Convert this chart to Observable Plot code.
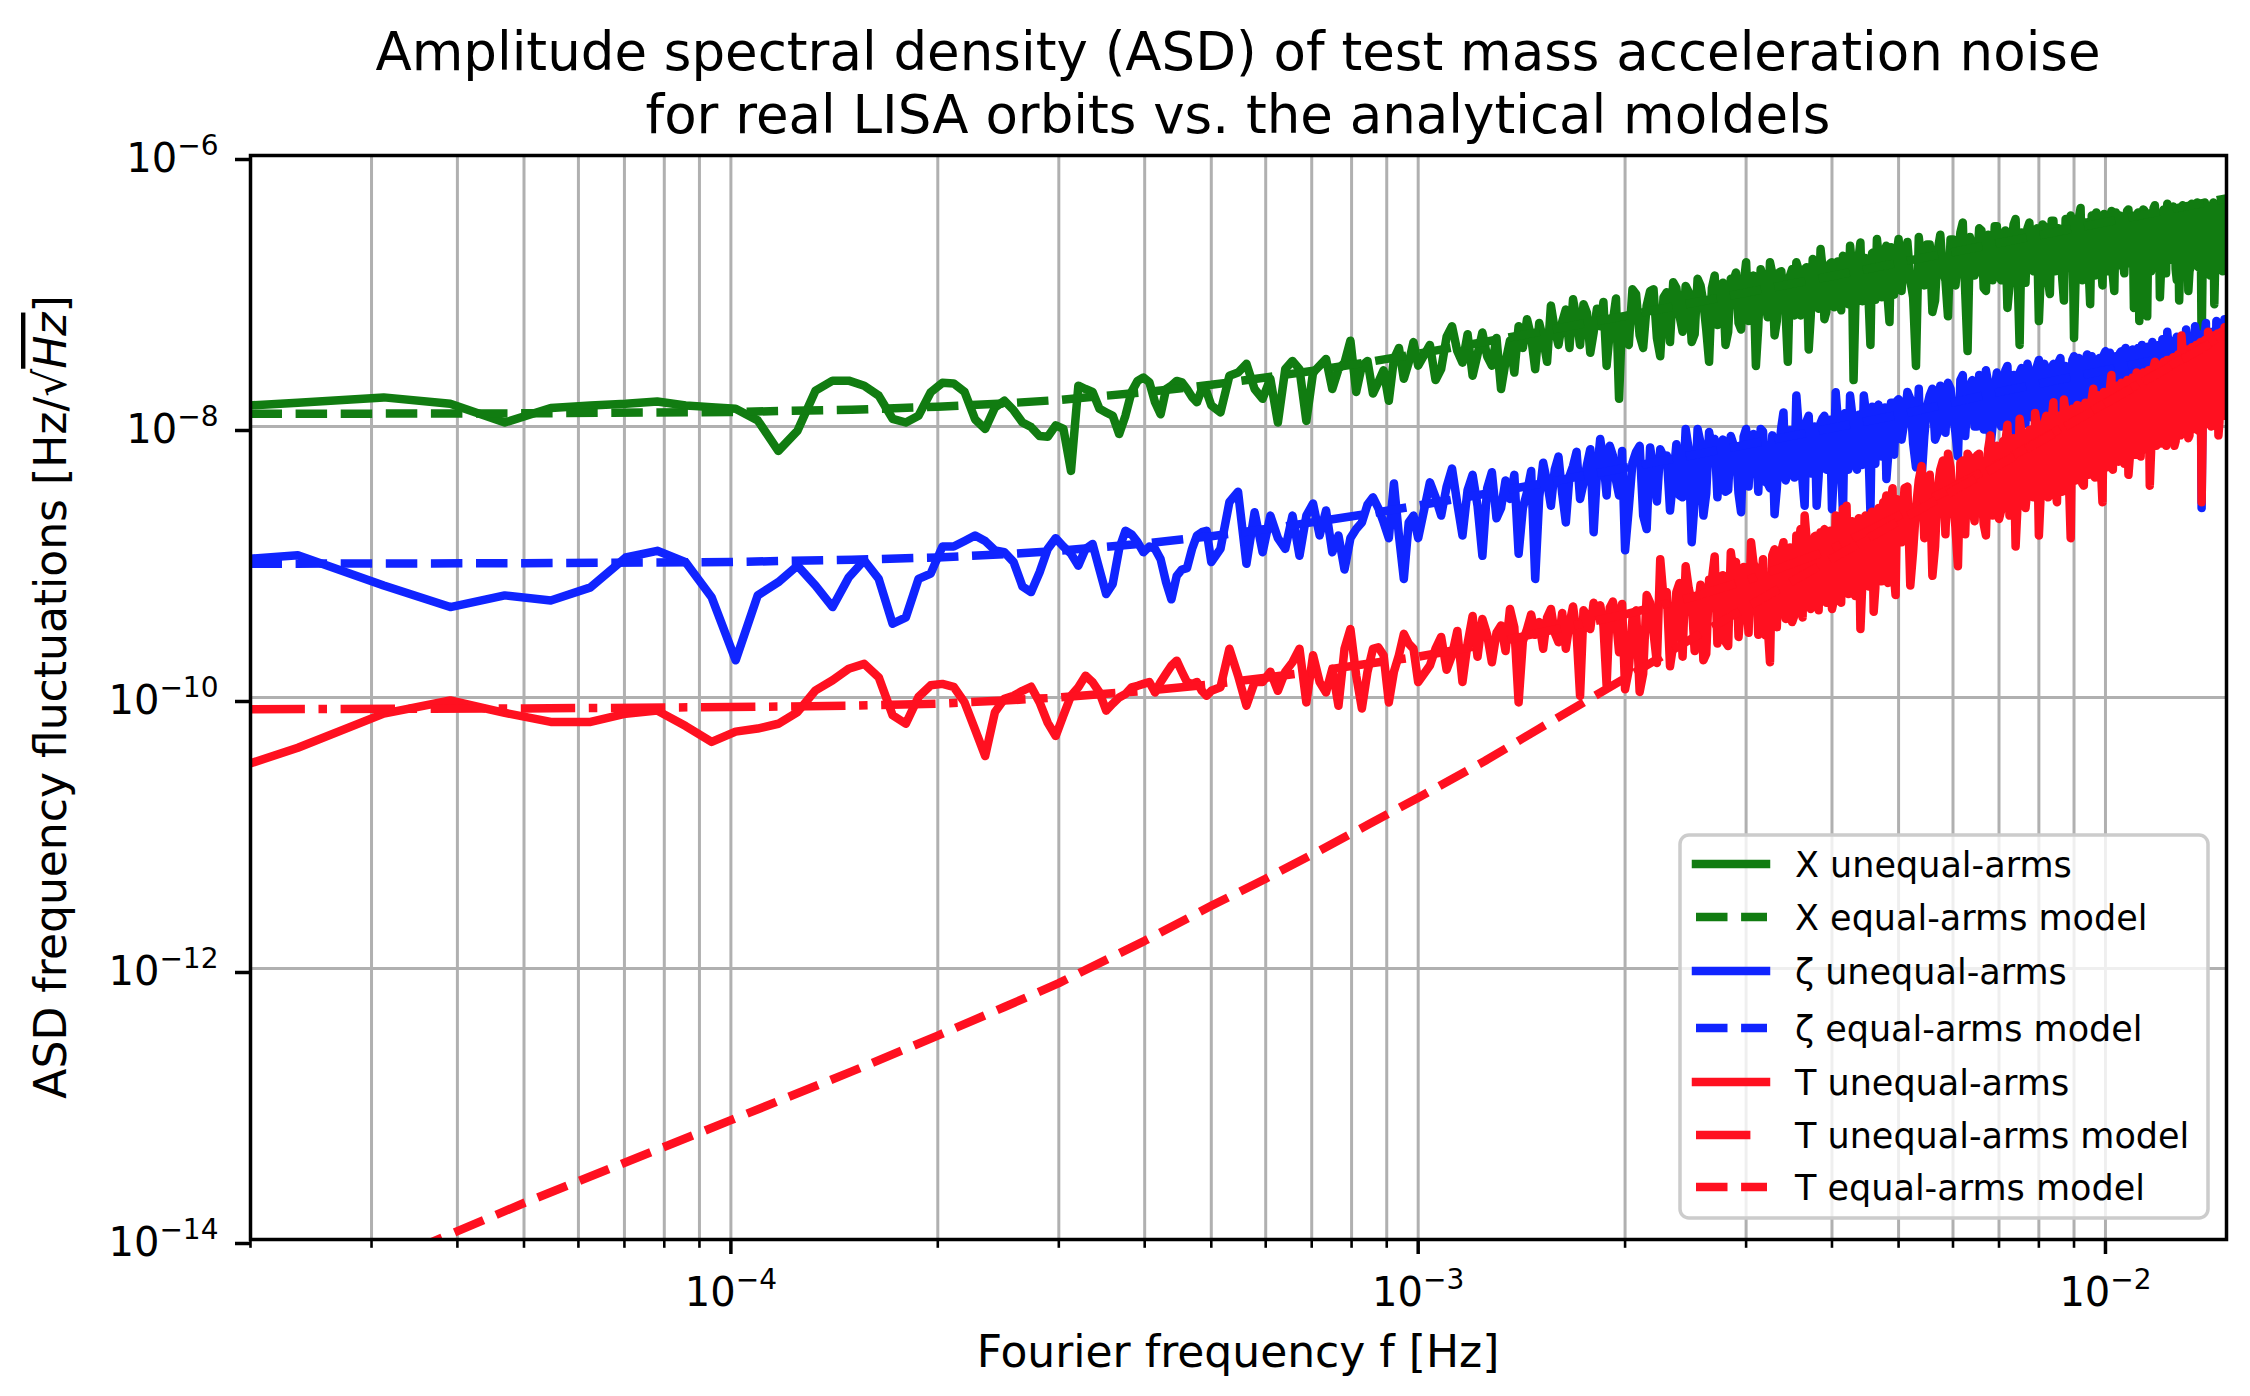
<!DOCTYPE html>
<html><head><meta charset="utf-8">
<script src="https://cdn.jsdelivr.net/npm/d3@7"></script>
<script src="https://cdn.jsdelivr.net/npm/@observablehq/plot@0.6"></script>
<style>html,body{margin:0;padding:0;background:#fff;} svg{display:block;}</style>
</head><body><div id="chart"></div>
<script>
// ---- Fourier frequencies of the measured spectra [Hz]
const freq = [
1.563e-5,2.344e-5,3.125e-5,3.906e-5,4.688e-5,5.469e-5,6.25e-5,7.031e-5,7.813e-5,8.594e-5,
9.375e-5,1.016e-4,1.094e-4,1.172e-4,1.25e-4,1.328e-4,1.406e-4,1.484e-4,1.563e-4,1.641e-4,
1.719e-4,1.797e-4,1.875e-4,1.953e-4,2.031e-4,2.109e-4,2.188e-4,2.266e-4,2.344e-4,2.422e-4,
2.5e-4,2.578e-4,2.656e-4,2.734e-4,2.813e-4,2.891e-4,2.969e-4,3.047e-4,3.125e-4,3.203e-4,
3.281e-4,3.359e-4,3.438e-4,3.516e-4,3.594e-4,3.672e-4,3.75e-4,3.828e-4,3.906e-4,3.984e-4,
4.063e-4,4.141e-4,4.219e-4,4.297e-4,4.375e-4,4.453e-4,4.531e-4,4.609e-4,4.688e-4,4.766e-4,
4.844e-4,4.922e-4,5.0e-4,
5.156e-4,5.313e-4,5.469e-4,5.625e-4,5.781e-4,5.938e-4,6.094e-4,6.25e-4,6.406e-4,6.563e-4,
6.719e-4,6.875e-4,7.031e-4,7.188e-4,7.344e-4,7.5e-4,7.656e-4,7.813e-4,7.969e-4,8.125e-4,
8.281e-4,8.438e-4,8.594e-4,8.75e-4,8.906e-4,9.063e-4,9.219e-4,9.375e-4,9.531e-4,9.688e-4,
9.844e-4,1.0e-3,
1.04e-3,1.08e-3,1.12e-3,1.16e-3,1.2e-3,1.24e-3,1.28e-3,1.32e-3,1.36e-3,1.4e-3,
1.44e-3,1.48e-3,1.52e-3,1.56e-3,1.6e-3,1.64e-3,1.68e-3,1.72e-3,1.76e-3,1.8e-3,
1.84e-3,1.88e-3,1.92e-3,1.96e-3,2.0e-3,
2.05e-3,2.1e-3,2.15e-3,2.2e-3,2.25e-3,2.3e-3,2.35e-3,2.4e-3,2.45e-3,2.5e-3,
2.55e-3,2.6e-3,2.65e-3,2.7e-3,2.75e-3,2.8e-3,2.85e-3,2.9e-3,2.95e-3,3.0e-3,
3.05e-3,3.1e-3,3.15e-3,3.2e-3,3.25e-3,3.3e-3,3.35e-3,3.4e-3,3.45e-3,3.5e-3,
3.55e-3,3.6e-3,3.65e-3,3.7e-3,3.75e-3,3.8e-3,3.85e-3,3.9e-3,3.95e-3,4.0e-3,
4.05e-3,4.1e-3,4.15e-3,4.2e-3,4.25e-3,4.3e-3,4.35e-3,4.4e-3,4.45e-3,4.5e-3,
4.55e-3,4.6e-3,4.65e-3,4.7e-3,4.75e-3,4.8e-3,4.85e-3,4.9e-3,4.95e-3,5.0e-3,
5.1e-3,5.2e-3,5.3e-3,5.4e-3,5.5e-3,5.6e-3,5.7e-3,5.8e-3,5.9e-3,6.0e-3,
6.1e-3,6.2e-3,6.3e-3,6.4e-3,6.5e-3,6.6e-3,6.7e-3,6.8e-3,6.9e-3,7.0e-3,
7.1e-3,7.2e-3,7.3e-3,7.4e-3,7.5e-3,7.6e-3,7.7e-3,7.8e-3,7.9e-3,8.0e-3,
8.1e-3,8.2e-3,8.3e-3,8.4e-3,8.5e-3,8.6e-3,8.7e-3,8.8e-3,8.9e-3,9.0e-3,
9.1e-3,9.2e-3,9.3e-3,9.4e-3,9.5e-3,9.6e-3,9.7e-3,9.8e-3,9.9e-3,1.0e-2,
1.01e-2,1.02e-2,1.03e-2,1.04e-2,1.05e-2,1.06e-2,1.07e-2,1.08e-2,1.09e-2,1.1e-2,
1.11e-2,1.12e-2,1.13e-2,1.14e-2,1.15e-2,1.16e-2,1.17e-2,1.18e-2,1.19e-2,1.2e-2,
1.21e-2,1.22e-2,1.23e-2,1.24e-2,1.25e-2,1.26e-2,1.27e-2,1.28e-2,1.29e-2,1.3e-2,
1.31e-2,1.32e-2,1.33e-2,1.34e-2,1.35e-2,1.36e-2,1.37e-2,1.38e-2,1.39e-2,1.4e-2,
1.41e-2,1.42e-2,1.43e-2,1.44e-2,1.45e-2,1.46e-2,1.47e-2,1.48e-2,1.49e-2,1.5e-2
];
// additional (in-between) frequencies of the dense high-frequency part [Hz]
const freqFine = [
1.06e-3,1.1e-3,1.14e-3,1.18e-3,1.22e-3,1.26e-3,1.3e-3,1.34e-3,1.38e-3,1.42e-3,
1.46e-3,1.5e-3,1.54e-3,1.58e-3,1.62e-3,1.66e-3,1.7e-3,1.74e-3,1.78e-3,1.82e-3,
1.86e-3,1.9e-3,1.94e-3,1.98e-3,
2.025e-3,2.075e-3,2.125e-3,2.175e-3,2.225e-3,2.275e-3,2.325e-3,2.375e-3,2.425e-3,2.475e-3,
2.525e-3,2.575e-3,2.625e-3,2.675e-3,2.725e-3,2.775e-3,2.825e-3,2.875e-3,2.925e-3,2.975e-3,
3.025e-3,3.075e-3,3.125e-3,3.175e-3,3.225e-3,3.275e-3,3.325e-3,3.375e-3,3.425e-3,3.475e-3,
3.525e-3,3.575e-3,3.625e-3,3.675e-3,3.725e-3,3.775e-3,3.825e-3,3.875e-3,3.925e-3,3.975e-3,
4.025e-3,4.075e-3,4.125e-3,4.175e-3,4.225e-3,4.275e-3,4.325e-3,4.375e-3,4.425e-3,4.475e-3,
4.525e-3,4.575e-3,4.625e-3,4.675e-3,4.725e-3,4.775e-3,4.825e-3,4.875e-3,4.925e-3,4.975e-3,
5.05e-3,5.15e-3,5.25e-3,5.35e-3,5.45e-3,5.55e-3,5.65e-3,5.75e-3,5.85e-3,5.95e-3,
6.05e-3,6.15e-3,6.25e-3,6.35e-3,6.45e-3,6.55e-3,6.65e-3,6.75e-3,6.85e-3,6.95e-3,
7.05e-3,7.15e-3,7.25e-3,7.35e-3,7.45e-3,7.55e-3,7.65e-3,7.75e-3,7.85e-3,7.95e-3,
8.05e-3,8.15e-3,8.25e-3,8.35e-3,8.45e-3,8.55e-3,8.65e-3,8.75e-3,8.85e-3,8.95e-3,
9.05e-3,9.15e-3,9.25e-3,9.35e-3,9.45e-3,9.55e-3,9.65e-3,9.75e-3,9.85e-3,9.95e-3,
1.005e-2,1.015e-2,1.025e-2,1.035e-2,1.045e-2,1.055e-2,1.065e-2,1.075e-2,1.085e-2,1.095e-2,
1.105e-2,1.115e-2,1.125e-2,1.135e-2,1.145e-2,1.155e-2,1.165e-2,1.175e-2,1.185e-2,1.195e-2,
1.205e-2,1.215e-2,1.225e-2,1.235e-2,1.245e-2,1.255e-2,1.265e-2,1.275e-2,1.285e-2,1.295e-2,
1.305e-2,1.315e-2,1.325e-2,1.335e-2,1.345e-2,1.355e-2,1.365e-2,1.375e-2,1.385e-2,1.395e-2,
1.405e-2,1.415e-2,1.425e-2,1.435e-2,1.445e-2,1.455e-2,1.465e-2,1.475e-2,1.485e-2,1.495e-2
];

// ---- X unequal-arms ASD
const xUnequal = [
1.33e-8,1.5e-8,1.64e-8,1.47e-8,1.07e-8,1.37e-8,1.43e-8,1.47e-8,1.53e-8,1.43e-8,
1.39e-8,1.35e-8,1.11e-8,6.6e-9,9.3e-9,1.84e-8,2.18e-8,2.18e-8,2.0e-8,1.69e-8,
1.14e-8,1.07e-8,1.2e-8,1.79e-8,2.1e-8,2.08e-8,1.8e-8,1.13e-8,9.6e-9,1.38e-8,
1.55e-8,1.32e-8,1.07e-8,9.9e-9,8.5e-9,8.4e-9,1.02e-8,9.6e-9,4.7e-9,2.0e-8,
1.89e-8,1.8e-8,1.35e-8,1.27e-8,1.2e-8,8.8e-9,1.2e-8,1.8e-8,2.17e-8,2.3e-8,
2.12e-8,1.51e-8,1.23e-8,1.89e-8,2.0e-8,2.17e-8,2.12e-8,1.89e-8,1.65e-8,1.51e-8,
1.89e-8,1.8e-8,1.43e-8,
1.27e-8,2.37e-8,2.5e-8,2.9e-8,1.89e-8,1.6e-8,2.25e-8,1.07e-8,2.65e-8,3.05e-8,
2.65e-8,1.1e-8,2.5e-8,2.81e-8,3.15e-8,1.89e-8,2.65e-8,2.96e-8,4.3e-8,1.8e-8,
2.81e-8,3.05e-8,1.75e-8,2.12e-8,2.6e-8,1.55e-8,3.15e-8,3.8e-8,2.25e-8,2.96e-8,
4.2e-8,2.81e-8,
4.0e-8,2.65e-8,5.5e-8,2.96e-8,2.37e-8,4.94e-8,2.81e-8,1.89e-8,4.3e-8,5.5e-8,
6.2e-8,2.65e-8,4.4e-8,7.8e-8,4.0e-8,7.3e-8,8.7e-8,4.0e-8,6.9e-8,4.94e-8,
5.5e-8,2.8e-8,6.0e-8,1.6e-8,4.5e-8,
1.03e-7,4.7e-8,7.8e-8,1.03e-7,3.3e-8,9.8e-8,1.16e-7,6.6e-8,1.09e-7,4.2e-8,
1.23e-7,8.2e-8,3.0e-8,1.3e-7,6.2e-8,4.0e-8,1.23e-7,1.37e-7,5.2e-8,1.63e-7,
1.03e-7,2.8e-8,1.45e-7,8.2e-8,1.63e-7,4.7e-8,1.37e-7,9.2e-8,3.0e-8,1.45e-7,
1.63e-7,6.6e-8,1.45e-7,3.7e-8,1.72e-7,1.03e-7,2.04e-7,6.2e-8,1.37e-7,1.63e-7,
1.37e-7,9.2e-8,1.82e-7,8.2e-8,2.16e-7,2.2e-8,1.63e-7,2.28e-7,1.03e-7,1.72e-7,
4.0e-8,1.93e-7,2.42e-7,9.2e-8,1.82e-7,2.16e-7,5.9e-8,2.04e-7,1.63e-7,2.42e-7,
1.9e-7,1.2e-7,2.8e-8,1.6e-7,2.2e-7,7.0e-8,2.0e-7,1.4e-7,6.5e-8,2.4e-7,
1.7e-7,3.2e-7,3.6e-8,2.1e-7,1.5e-7,2.8e-7,1.0e-7,2.3e-7,3.0e-7,1.3e-7,
2.6e-7,7.5e-8,2.2e-7,3.4e-7,4.0e-8,2.0e-7,2.9e-7,1.5e-7,2.5e-7,6.0e-8,
3.1e-7,2.2e-7,9.5e-8,3.3e-7,1.8e-7,2.7e-7,8.5e-8,2.4e-7,3.6e-7,4.5e-8,
2.9e-7,4.1e-7,1.9e-7,3.2e-7,8.0e-8,2.6e-7,3.8e-7,1.6e-7,1.1e-7,3.3e-7,
2.4e-7,3.9e-7,1.0e-7,2.8e-7,3.6e-7,1.7e-7,3.0e-7,4.0e-7,2.0e-7,7.5e-8,
3.4e-7,6.0e-8,2.7e-7,3.9e-7,6.5e-8,3.2e-7,2.2e-7,4.3e-7,1.5e-7,9.0e-8,
3.6e-7,2.5e-7,4.4e-7,1.8e-7,3.1e-7,4.0e-7,1.2e-7,8.5e-8,3.5e-7,2.6e-7,
4.2e-7,1.0e-7,1.5e-7,3.7e-7,2.3e-7,4.5e-7,1.9e-7,4.0e-8,3.3e-7,4.1e-7,
2.8e-7,1.3e-7,3.9e-7,8.0e-8,3.0e-7,4.4e-7,2.4e-7,1.4e-7,3.8e-7,4.3e-7
];
const xUnequalFine = [
2.2e-8,4.6e-8,3.6e-8,4.8e-8,3.4e-8,3.3e-8,4.5e-8,3.0e-8,2.5e-8,3.8e-8,
4.6e-8,5.8e-8,3.0e-8,5.2e-8,5.9e-8,3.8e-8,6.2e-8,8.0e-8,3.5e-8,7.4e-8,
8.3e-8,5.0e-8,8.8e-8,6.4e-8,
4.0e-8,9.5e-8,3.8e-8,1.0e-7,4.5e-8,9.0e-8,4.2e-8,1.05e-7,5.0e-8,9.8e-8,
4.8e-8,1.1e-7,5.2e-8,1.05e-7,5.6e-8,1.15e-7,5.0e-8,1.2e-7,5.8e-8,1.12e-7,
6.0e-8,1.3e-7,5.5e-8,1.25e-7,6.4e-8,1.35e-7,6.0e-8,1.4e-7,6.8e-8,1.3e-7,
6.6e-8,1.45e-7,7.0e-8,1.5e-7,6.5e-8,1.55e-7,7.4e-8,1.48e-7,7.0e-8,1.6e-7,
7.6e-8,1.65e-7,7.2e-8,1.7e-7,8.0e-8,1.6e-7,7.5e-8,1.8e-7,8.4e-8,1.75e-7,
8.0e-8,1.9e-7,8.6e-8,1.85e-7,9.0e-8,2.0e-7,8.4e-8,2.1e-7,9.4e-8,2.0e-7,
1.0e-7,2.3e-7,9.0e-8,2.5e-7,1.1e-7,2.2e-7,8.5e-8,2.6e-7,1.2e-7,2.4e-7,
1.1e-7,2.7e-7,1.0e-7,2.5e-7,1.3e-7,2.9e-7,1.05e-7,2.6e-7,1.2e-7,3.0e-7,
1.2e-7,2.8e-7,1.1e-7,3.1e-7,1.3e-7,2.7e-7,1.15e-7,3.2e-7,1.4e-7,2.9e-7,
1.3e-7,3.0e-7,1.2e-7,3.3e-7,1.4e-7,2.9e-7,1.25e-7,3.4e-7,1.5e-7,3.1e-7,
1.35e-7,3.5e-7,1.2e-7,3.2e-7,1.5e-7,3.6e-7,1.3e-7,3.3e-7,1.6e-7,3.7e-7,
1.4e-7,3.4e-7,1.3e-7,3.8e-7,1.55e-7,3.5e-7,1.35e-7,3.9e-7,1.6e-7,3.6e-7,
1.45e-7,3.8e-7,1.3e-7,4.0e-7,1.6e-7,3.6e-7,1.4e-7,4.1e-7,1.7e-7,3.7e-7,
1.5e-7,4.0e-7,1.35e-7,3.8e-7,1.7e-7,4.2e-7,1.45e-7,3.9e-7,1.75e-7,4.3e-7,
1.55e-7,4.1e-7,1.4e-7,4.4e-7,1.8e-7,3.9e-7,1.5e-7,4.3e-7,1.7e-7,4.5e-7,
1.6e-7,4.2e-7,1.45e-7,4.5e-7,1.8e-7,4.0e-7,1.55e-7,4.4e-7,1.75e-7,4.6e-7
];

// ---- zeta unequal-arms ASD
const zetaUnequal = [
9.7e-10,1.12e-9,6.7e-10,4.65e-10,5.67e-10,5.2e-10,6.5e-10,1.08e-9,1.21e-9,9.97e-10,
5.5e-10,1.88e-10,5.67e-10,7.1e-10,9.4e-10,6.7e-10,4.65e-10,7.7e-10,1.03e-9,7.5e-10,
3.5e-10,3.9e-10,7.5e-10,8.2e-10,1.3e-9,1.3e-9,1.43e-9,1.57e-9,1.43e-9,1.22e-9,
1.18e-9,1.0e-9,6.6e-10,6.0e-10,8.4e-10,1.25e-9,1.5e-9,1.3e-9,1.15e-9,9.4e-10,
1.25e-9,1.36e-9,8.8e-10,5.8e-10,6.9e-10,1.25e-9,1.7e-9,1.6e-9,1.4e-9,1.18e-9,
1.3e-9,1.25e-9,1.05e-9,7.1e-10,5.3e-10,7.9e-10,8.8e-10,9.0e-10,1.25e-9,1.57e-9,
1.66e-9,1.7e-9,1.0e-9,
1.25e-9,2.77e-9,3.3e-9,9.7e-10,2.33e-9,1.18e-9,2.2e-9,1.5e-9,1.25e-9,2.2e-9,
1.11e-9,2.2e-9,2.7e-9,1.57e-9,2.4e-9,1.18e-9,1.57e-9,8.8e-10,1.5e-9,1.75e-9,
1.96e-9,2.65e-9,3.0e-9,2.5e-9,1.96e-9,1.5e-9,3.8e-9,1.57e-9,7.5e-10,1.96e-9,
2.2e-9,1.5e-9,
3.87e-9,2.2e-9,4.9e-9,1.57e-9,4.4e-9,1.11e-9,4.6e-9,2.5e-9,2.92e-9,1.15e-9,
3.27e-9,7.5e-10,5.4e-9,2.6e-9,6.0e-9,1.96e-9,5.1e-9,2.92e-9,5.2e-9,1.66e-9,
8.1e-9,3.1e-9,6.1e-9,3.1e-9,1.22e-9,
5.4e-9,7.2e-9,1.75e-9,4.8e-9,6.8e-9,6.1e-9,4.1e-9,3.1e-9,9.6e-9,1.4e-9,
9.6e-9,2.2e-9,9.1e-9,8.1e-9,6.4e-9,3.3e-9,8.5e-9,6.4e-9,2.33e-9,9.6e-9,
8.5e-9,7.2e-9,9.6e-9,3.9e-9,3.5e-9,2.25e-9,6.8e-9,1.27e-8,4.6e-9,6.8e-9,
1.69e-8,7.2e-9,2.6e-9,1.2e-8,9.6e-9,2.6e-9,1.06e-8,1.2e-8,5.4e-9,2.45e-9,
1.79e-8,6.1e-9,2.33e-9,1.2e-8,1.69e-8,8.5e-9,4.8e-9,1.06e-8,1.69e-8,9.6e-9,
2.33e-9,5.4e-9,1.35e-8,1.2e-8,8.5e-9,4.1e-9,1.2e-8,1.5e-8,1.06e-8,1.59e-8,
1.1e-8,1.6e-8,5.0e-9,4.1e-9,1.4e-8,1.9e-8,9.0e-9,1.5e-8,2.1e-8,1.2e-8,
6.0e-9,2.4e-8,1.6e-8,2.2e-8,1.0e-8,1.8e-8,2.6e-8,7.0e-9,1.9e-8,2.3e-8,
1.4e-8,2.8e-8,2.0e-8,9.0e-9,2.5e-8,1.7e-8,2.9e-8,1.3e-8,2.4e-8,3.1e-8,
1.9e-8,2.6e-8,1.2e-8,2.9e-8,2.2e-8,3.2e-8,1.6e-8,2.7e-8,1.0e-8,3.3e-8,
2.4e-8,2.9e-8,1.5e-8,3.4e-8,2.2e-8,2.8e-8,1.3e-8,3.2e-8,2.5e-8,3.6e-8,
1.8e-8,3.0e-8,2.6e-8,1.4e-8,3.5e-8,2.3e-8,3.8e-8,2.0e-8,3.1e-8,1.6e-8,
3.6e-8,2.7e-8,4.0e-8,1.9e-8,3.3e-8,2.5e-8,4.2e-8,2.1e-8,3.7e-8,1.5e-8,
4.4e-8,3.0e-8,5.0e-8,2.4e-8,3.9e-8,2.8e-8,4.6e-8,1.9e-8,4.1e-8,3.2e-8,
5.2e-8,2.6e-8,4.4e-8,3.5e-8,5.5e-8,2.9e-8,4.8e-8,2.5e-9,4.2e-8,5.8e-8,
3.3e-8,5.0e-8,2.7e-8,4.6e-8,6.0e-8,3.6e-8,5.3e-8,4.0e-8,6.2e-8,4.5e-8
];
const zetaUnequalFine = [
3.0e-9,3.6e-9,2.7e-9,3.4e-9,2.6e-9,3.5e-9,2.1e-9,4.0e-9,4.4e-9,2.5e-9,
4.7e-9,3.0e-9,3.9e-9,4.8e-9,3.2e-9,4.3e-9,6.5e-9,3.8e-9,6.8e-9,4.5e-9,
5.6e-9,7.2e-9,4.0e-9,6.6e-9,
2.5e-9,6.5e-9,2.2e-9,7.0e-9,2.8e-9,6.0e-9,2.4e-9,7.4e-9,3.0e-9,6.8e-9,
2.8e-9,7.6e-9,3.2e-9,7.0e-9,3.0e-9,8.0e-9,3.4e-9,7.4e-9,3.2e-9,8.4e-9,
3.6e-9,8.8e-9,3.3e-9,9.2e-9,3.8e-9,8.6e-9,3.5e-9,9.8e-9,4.0e-9,9.4e-9,
4.2e-9,1.05e-8,3.9e-9,1.1e-8,4.5e-9,1.0e-8,4.3e-9,1.15e-8,4.8e-9,1.12e-8,
4.6e-9,1.2e-8,5.0e-9,1.25e-8,4.8e-9,1.3e-8,5.4e-9,1.22e-8,5.2e-9,1.35e-8,
5.6e-9,1.4e-8,5.3e-9,1.45e-8,6.0e-9,1.38e-8,5.8e-9,1.5e-8,6.2e-9,1.55e-8,
8.0e-9,1.8e-8,7.5e-9,1.9e-8,8.5e-9,1.7e-8,8.0e-9,2.0e-8,9.0e-9,1.9e-8,
9.0e-9,2.2e-8,8.5e-9,2.0e-8,1.0e-8,2.4e-8,9.5e-9,2.1e-8,1.0e-8,2.5e-8,
1.0e-8,2.6e-8,9.5e-9,2.4e-8,1.1e-8,2.7e-8,1.05e-8,2.5e-8,1.15e-8,2.8e-8,
1.1e-8,2.9e-8,1.05e-8,2.7e-8,1.2e-8,3.0e-8,1.1e-8,2.8e-8,1.25e-8,3.1e-8,
1.2e-8,3.2e-8,1.15e-8,3.0e-8,1.3e-8,3.3e-8,1.2e-8,3.1e-8,1.35e-8,3.4e-8,
1.3e-8,3.5e-8,1.25e-8,3.3e-8,1.4e-8,3.6e-8,1.3e-8,3.4e-8,1.45e-8,3.7e-8,
1.4e-8,3.8e-8,1.35e-8,3.6e-8,1.5e-8,3.9e-8,1.4e-8,3.7e-8,1.55e-8,4.0e-8,
1.5e-8,4.1e-8,1.45e-8,3.9e-8,1.6e-8,4.3e-8,1.5e-8,4.0e-8,1.7e-8,4.4e-8,
1.6e-8,4.5e-8,1.55e-8,4.3e-8,1.75e-8,4.7e-8,1.6e-8,4.4e-8,1.8e-8,4.9e-8,
1.7e-8,5.0e-8,1.65e-8,4.7e-8,1.9e-8,5.2e-8,1.75e-8,4.9e-8,1.95e-8,5.4e-8
];

// ---- T unequal-arms ASD
const tUnequal = [
2.16e-11,4.26e-11,7.6e-11,9.5e-11,7.7e-11,6.6e-11,6.6e-11,7.6e-11,8.0e-11,6.15e-11,
4.7e-11,5.6e-11,5.9e-11,6.4e-11,7.8e-11,1.13e-10,1.34e-10,1.63e-10,1.77e-10,1.41e-10,
7.4e-11,6.4e-11,1.01e-10,1.23e-10,1.26e-10,1.2e-10,9.2e-11,5.8e-11,3.7e-11,7.8e-11,
9.8e-11,1.03e-10,1.12e-10,1.2e-10,9.2e-11,6.5e-11,5.2e-11,7.4e-11,1.03e-10,1.19e-10,
1.45e-10,1.3e-10,1.09e-10,8.0e-11,9.0e-11,1.0e-10,1.06e-10,1.19e-10,1.22e-10,1.26e-10,
1.3e-10,1.09e-10,1.3e-10,1.5e-10,1.72e-10,1.87e-10,1.55e-10,1.3e-10,1.26e-10,1.3e-10,
1.12e-10,1.03e-10,1.12e-10,
1.19e-10,2.29e-10,1.45e-10,8.7e-11,1.3e-10,1.3e-10,1.55e-10,1.12e-10,1.55e-10,1.82e-10,
2.29e-10,9.2e-11,2.05e-10,1.3e-10,1.09e-10,1.63e-10,8.7e-11,2.29e-10,3.2e-10,1.45e-10,
8.3e-11,1.55e-10,2.29e-10,2.35e-10,2.05e-10,9.2e-11,1.55e-10,2.05e-10,2.95e-10,2.5e-10,
2.29e-10,1.3e-10,
1.72e-10,2.8e-10,2.05e-10,1.3e-10,4.0e-10,3.8e-10,1.82e-10,3.4e-10,4.5e-10,9.2e-11,
3.2e-10,2.9e-10,2.29e-10,4.5e-10,2.56e-10,2.29e-10,4.7e-10,1.03e-10,4.0e-10,5.0e-10,
4.8e-10,1.23e-10,5.1e-10,2.16e-10,1.15e-10,
3.8e-10,1.1e-10,5.7e-10,3.0e-10,1.05e-9,6.0e-10,2.45e-10,7.0e-10,9.3e-10,5.1e-10,
4.4e-10,1.88e-10,7.4e-10,1.1e-9,5.1e-10,2.56e-10,1.18e-9,1.0e-9,5.1e-10,5.7e-10,
1.4e-9,8.9e-10,6.0e-10,2.87e-10,1.82e-10,1.24e-9,1.1e-9,1.4e-9,6.7e-10,3.6e-10,
1.57e-9,1.75e-9,2.2e-9,8.9e-10,5.1e-10,1.57e-9,1.66e-9,1.75e-9,6.7e-10,4.5e-10,
2.2e-9,1.97e-9,2.47e-9,2.6e-9,1.75e-9,1.34e-9,6.7e-10,3.2e-10,1.1e-9,2.08e-9,
2.2e-9,4.3e-10,1.97e-9,2.47e-9,2.76e-9,3.1e-9,2.08e-9,3.5e-9,5.7e-10,2.76e-9,
3.5e-9,6.7e-10,2.5e-9,5.1e-9,1.57e-9,7.9e-10,3.5e-9,5.6e-9,6.3e-9,2.76e-9,
9.3e-10,5.6e-9,6.3e-9,2.5e-9,6.1e-9,3.5e-9,1.57e-9,8.6e-9,5.4e-9,2.08e-9,
7.8e-9,1.03e-8,3.5e-9,1.3e-9,1.14e-8,5.4e-9,3.5e-9,9.5e-9,1.26e-8,1.57e-9,
6.1e-9,1.2e-8,9.5e-9,1.51e-8,2.76e-9,7.8e-9,1.58e-8,1.14e-8,1.5e-9,7.2e-9,
1.44e-8,1.08e-8,3.66e-9,1.26e-8,8.6e-9,1.9e-8,5.4e-9,1.2e-8,2.76e-9,1.66e-8,
8.6e-9,2.4e-8,1.26e-8,6.1e-9,2.0e-8,9.5e-9,1.51e-8,4.4e-9,2.1e-8,1.14e-8,
2.5e-8,7.8e-9,1.66e-8,2.2e-8,9.5e-9,3.66e-9,1.9e-8,3.0e-8,1.36e-8,2.65e-8,
1.83e-8,9.5e-9,3.1e-8,1.51e-8,2.2e-8,7.2e-9,3.3e-8,1.9e-8,4.7e-8,1.51e-8,
2.65e-8,8.2e-9,3.5e-8,1.66e-8,2.65e-8,9.5e-9,4.0e-8,2.76e-9,3.5e-8,2.0e-8,
5.0e-8,1.26e-8,3.0e-8,4.2e-8,1.9e-8,8.6e-9,4.7e-8,2.65e-8,5.4e-8,3.3e-8
];
const tUnequalFine = [
2.3e-10,1.6e-10,3.1e-10,2.5e-10,2.0e-10,2.9e-10,3.0e-10,2.2e-10,3.3e-10,2.6e-10,
4.1e-10,3.6e-10,3.9e-10,3.0e-10,4.2e-10,3.5e-10,3.0e-10,4.4e-10,3.2e-10,4.0e-10,
3.4e-10,4.6e-10,3.8e-10,4.9e-10,
1.6e-10,4.4e-10,1.5e-10,5.0e-10,1.8e-10,5.4e-10,1.7e-10,6.0e-10,2.0e-10,6.4e-10,
2.2e-10,6.8e-10,2.1e-10,7.4e-10,2.5e-10,8.0e-10,2.4e-10,8.6e-10,2.8e-10,9.2e-10,
3.0e-10,9.8e-10,2.9e-10,1.05e-9,3.4e-10,1.12e-9,3.3e-10,1.2e-9,3.8e-10,1.28e-9,
4.0e-10,1.35e-9,3.9e-10,1.45e-9,4.5e-10,1.55e-9,4.4e-10,1.62e-9,5.0e-10,1.7e-9,
5.2e-10,1.8e-9,5.0e-10,1.9e-9,5.8e-10,2.0e-9,5.6e-10,2.1e-9,6.4e-10,2.2e-9,
6.6e-10,2.35e-9,6.4e-10,2.5e-9,7.2e-10,2.6e-9,7.0e-10,2.75e-9,7.8e-10,2.9e-9,
1.4e-9,3.6e-9,1.2e-9,4.0e-9,1.5e-9,4.4e-9,1.3e-9,4.8e-9,1.6e-9,5.0e-9,
1.8e-9,5.4e-9,1.6e-9,5.9e-9,2.0e-9,6.3e-9,1.9e-9,6.8e-9,2.2e-9,7.2e-9,
2.4e-9,7.6e-9,2.2e-9,8.2e-9,2.7e-9,8.8e-9,2.5e-9,9.4e-9,3.0e-9,1.0e-8,
3.2e-9,1.05e-8,3.0e-9,1.12e-8,3.5e-9,1.2e-8,3.3e-9,1.28e-8,3.8e-9,1.35e-8,
4.0e-9,1.42e-8,3.8e-9,1.5e-8,4.4e-9,1.6e-8,4.2e-9,1.7e-8,4.8e-9,1.8e-8,
5.0e-9,1.9e-8,4.8e-9,2.0e-8,5.5e-9,2.1e-8,5.3e-9,2.2e-8,6.0e-9,2.3e-8,
6.2e-9,2.4e-8,6.0e-9,2.5e-8,6.8e-9,2.6e-8,6.5e-9,2.75e-8,7.2e-9,2.85e-8,
7.5e-9,3.0e-8,7.2e-9,3.1e-8,8.0e-9,3.25e-8,7.8e-9,3.4e-8,8.6e-9,3.55e-8,
9.0e-9,3.7e-8,8.6e-9,3.85e-8,9.6e-9,4.0e-8,9.3e-9,4.2e-8,1.0e-8,4.35e-8,
1.05e-8,4.5e-8,1.0e-8,4.7e-8,1.12e-8,4.85e-8,1.08e-8,5.0e-8,1.2e-8,5.2e-8
];

// ---- analytical models
const modelFreq = [2e-5,5e-5,1e-4,1.5e-4,2e-4,2.5e-4,3e-4,4e-4,5e-4,6e-4,7e-4,8.5e-4,1e-3,1.25e-3,1.5e-3,2e-3,2.5e-3,3e-3,4e-3,5e-3,7e-3,1e-2,1.5e-2];
const xEqualModel = [1.24e-8,1.25e-8,1.28e-8,1.33e-8,1.40e-8,1.48e-8,1.57e-8,1.79e-8,2.03e-8,2.30e-8,2.57e-8,3.0e-8,3.45e-8,4.21e-8,4.99e-8,6.56e-8,8.15e-8,9.74e-8,1.29e-7,1.62e-7,2.26e-7,3.22e-7,4.83e-7];
const zetaEqualModel = [9.7e-10,9.8e-10,1.0e-9,1.04e-9,1.08e-9,1.14e-9,1.21e-9,1.37e-9,1.55e-9,1.75e-9,1.96e-9,2.28e-9,2.61e-9,3.18e-9,3.77e-9,4.95e-9,6.14e-9,7.34e-9,9.75e-9,1.22e-8,1.8e-8,2.6e-8,4.0e-8];
const tUnequalModel = [8.2e-11,8.3e-11,8.5e-11,8.7e-11,9.0e-11,9.5e-11,1.0e-10,1.12e-10,1.25e-10,1.4e-10,1.55e-10,1.78e-10,2.0e-10,2.45e-10,3.0e-10,4.1e-10,5.5e-10,7.3e-10,1.25e-9,2.2e-9,5.35e-9,1.49e-8,4.9e-8];
const tEqualFreq = [3e-5,5e-5,1e-4,1.5e-4,2e-4,2.5e-4,3e-4,4e-4,5e-4,6e-4,7e-4,8.5e-4,1e-3,1.25e-3,1.5e-3,2e-3,2.5e-3,3e-3,4e-3,5e-3,7e-3,1e-2,1.5e-2];
const tEqualModel = [6.2e-15,1.86e-14,7.6e-14,1.74e-13,3.2e-13,5.2e-13,7.8e-13,1.6e-12,2.9e-12,4.6e-12,6.9e-12,1.17e-11,1.82e-11,3.4e-11,5.9e-11,1.39e-10,2.72e-10,4.6e-10,1.06e-9,2.0e-9,5.2e-9,1.48e-8,4.8e-8];

// ---- axes ticks and labels
const xMajorTicks = [1e-4, 1e-3, 1e-2];
const xTickLabels = ["10^\u22124", "10^\u22123", "10^\u22122"];
const xMinorTicks = [2e-5,3e-5,4e-5,5e-5,6e-5,7e-5,8e-5,9e-5,2e-4,3e-4,4e-4,5e-4,6e-4,7e-4,8e-4,9e-4,2e-3,3e-3,4e-3,5e-3,6e-3,7e-3,8e-3,9e-3];
const yTicks = [1e-14, 1e-12, 1e-10, 1e-8, 1e-6];
const yTickLabels = ["10^\u221214", "10^\u221212", "10^\u221210", "10^\u22128", "10^\u22126"];

const titleLines = ["Amplitude spectral density (ASD) of test mass acceleration noise", "for real LISA orbits vs. the analytical moldels"];
const xLabel = "Fourier frequency f [Hz]";
const legendLabels = ["X unequal-arms","X equal-arms model","\u03b6 unequal-arms","\u03b6 equal-arms model","T unequal-arms","T unequal-arms model","T equal-arms model"];

const GREEN = "#117c11", BLUE = "#1024ff", RED = "#ff1020";
const LW = 8.5;
const DASH = "31.5,13.6";
const DASHDOT = "54.4,13.6,8.5,13.6";

const rows = (fs, vs) => fs.map((f, i) => ({f, v: vs[i]}));
const merged = (fa, va, fb, vb) => rows(fa, va).concat(rows(fb, vb)).sort((a, b) => a.f - b.f);
const xMap = new Map(xMajorTicks.map((t, i) => [t, xTickLabels[i]]));
const yMap = new Map(yTicks.map((t, i) => [t, yTickLabels[i]]));

const W = 2250, H = 1396, ML = 250, MR = 24, MT = 155, MB = 157;

const solid = (data, color) => Plot.line(data, {x: "f", y: "v", stroke: color, strokeWidth: LW, strokeLinejoin: "round", strokeLinecap: "square", clip: true});
const dashed = (data, color, dash) => Plot.line(data, {x: "f", y: "v", stroke: color, strokeWidth: LW, strokeDasharray: dash, strokeLinejoin: "round", strokeLinecap: "butt", clip: true});

const plot = Plot.plot({
  width: W, height: H,
  marginLeft: ML, marginRight: MR, marginTop: MT, marginBottom: MB,
  x: {type: "log", domain: [2e-5, 0.015]},
  y: {type: "log", domain: [1e-14, 1e-6]},
  style: {fontFamily: "DejaVu Sans", background: "white", color: "black"},
  marks: [
    Plot.gridX(xMinorTicks.concat(xMajorTicks), {stroke: "#b0b0b0", strokeOpacity: 1, strokeWidth: 3}),
    Plot.gridY(yTicks, {stroke: "#b0b0b0", strokeOpacity: 1, strokeWidth: 3}),
    solid(merged(freq, xUnequal, freqFine, xUnequalFine), GREEN),
    dashed(rows(modelFreq, xEqualModel), GREEN, DASH),
    solid(merged(freq, zetaUnequal, freqFine, zetaUnequalFine), BLUE),
    dashed(rows(modelFreq, zetaEqualModel), BLUE, DASH),
    solid(merged(freq, tUnequal, freqFine, tUnequalFine), RED),
    dashed(rows(modelFreq, tUnequalModel), RED, DASHDOT),
    dashed(rows(tEqualFreq, tEqualModel), RED, DASH),
    Plot.frame({stroke: "black", strokeWidth: 3.5}),
    Plot.axisX(xMinorTicks, {tickSize: 8.8, strokeWidth: 2.6, tickFormat: () => "", label: null}),
    Plot.axisX(xMajorTicks, {tickSize: 15, tickPadding: 23, strokeWidth: 3.5, fontSize: 40, tickFormat: d => xMap.get(d), label: null}),
    Plot.axisY(yTicks, {tickSize: 15, tickPadding: 17, strokeWidth: 3.5, fontSize: 40, tickFormat: d => yMap.get(d), label: null, dy: 4})
  ]
});

document.getElementById("chart").appendChild(plot);

const NS = "http://www.w3.org/2000/svg";
// superscripts in tick labels
plot.querySelectorAll("text").forEach(t => {
  const m = (t.textContent || "").match(/^10\^(.+)$/);
  if (m) {
    t.textContent = "10";
    const ts = document.createElementNS(NS, "tspan");
    ts.setAttribute("dy", "-17");
    ts.setAttribute("font-size", "28");
    ts.textContent = m[1];
    t.appendChild(ts);
  }
});

const svg = d3.select(plot);
const cx = (ML + (W - MR)) / 2;
const font = "DejaVu Sans";

// title
svg.append("text").attr("x", cx).attr("y", 70).attr("text-anchor", "middle")
  .attr("font-family", font).attr("font-size", 53).attr("fill", "black").text(titleLines[0]);
svg.append("text").attr("x", cx).attr("y", 133).attr("text-anchor", "middle")
  .attr("font-family", font).attr("font-size", 53).attr("fill", "black").text(titleLines[1]);

// x label
svg.append("text").attr("x", cx).attr("y", 1367).attr("text-anchor", "middle")
  .attr("font-family", font).attr("font-size", 44).attr("fill", "black").text(xLabel);

// y label
const yl = svg.append("text").attr("transform", `translate(66,${(MT + H - MB) / 2}) rotate(-90)`)
  .attr("text-anchor", "middle").attr("font-family", font).attr("font-size", 44).attr("fill", "black");
yl.append("tspan").text("ASD frequency fluctuations [Hz/");
yl.append("tspan").text("\u221a");
yl.append("tspan").attr("font-style", "italic").attr("text-decoration", "overline").text("Hz");
yl.append("tspan").text("]");

// legend
const lg = svg.append("g");
lg.append("rect").attr("x", 1680).attr("y", 835).attr("width", 528).attr("height", 383)
  .attr("rx", 9).attr("fill", "white").attr("fill-opacity", 0.8)
  .attr("stroke", "#cccccc").attr("stroke-width", 3.5);
const legendStyles = [
  {c: GREEN, d: null}, {c: GREEN, d: DASH},
  {c: BLUE, d: null}, {c: BLUE, d: DASH},
  {c: RED, d: null}, {c: RED, d: DASHDOT}, {c: RED, d: DASH}
];
const rowY = [864, 917, 971, 1028, 1082, 1135, 1187];
legendLabels.forEach((lab, i) => {
  const s = legendStyles[i];
  const ln = lg.append("line").attr("y1", rowY[i]).attr("y2", rowY[i])
    .attr("stroke", s.c).attr("stroke-width", LW);
  if (s.d === DASHDOT) ln.attr("x1", 1696).attr("x2", 1762).attr("stroke-dasharray", s.d).attr("stroke-linecap", "butt");
  else if (s.d) ln.attr("x1", 1696).attr("x2", 1767).attr("stroke-dasharray", s.d).attr("stroke-linecap", "butt");
  else ln.attr("x1", 1696).attr("x2", 1766).attr("stroke-linecap", "square");
  lg.append("text").attr("x", 1795).attr("y", rowY[i] + 12.5).attr("text-anchor", "start")
    .attr("font-family", font).attr("font-size", 35).attr("fill", "black").text(lab);
});
</script></body></html>
